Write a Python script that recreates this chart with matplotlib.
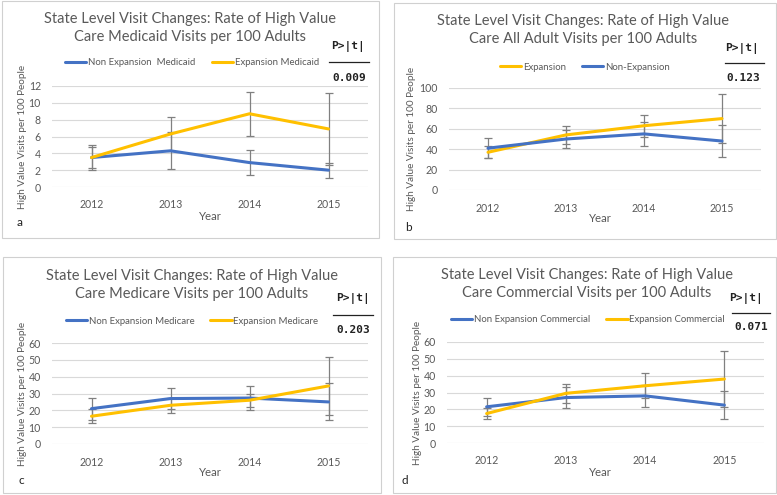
import matplotlib
matplotlib.use("Agg")
import matplotlib.pyplot as plt
from matplotlib.patches import Rectangle
from matplotlib.lines import Line2D

plt.rcParams['font.family'] = ['Lato', 'DejaVu Sans']

W, H = 777, 495
years = ['2012', '2013', '2014', '2015']

# Panel a: Medicaid
a_non = [3.5, 4.3, 2.9, 2.0]
a_non_err = [1.5, 2.2, 1.5, 0.9]
a_exp = [3.5, 6.3, 8.7, 6.9]
a_exp_err = [1.3, 2.0, 2.6, 4.3]
# Panel b: All adult
b_exp = [37, 54, 63, 70]
b_exp_err = [6, 9, 11, 24]
b_non = [41, 50, 55, 48]
b_non_err = [10, 9, 12, 16]
# Panel c: Medicare
c_non = [21, 27, 27.3, 25]
c_non_err = [6.5, 6, 7, 11]
c_exp = [16.5, 23, 26, 34.5]
c_exp_err = [4, 4.5, 4, 17]
# Panel d: Commercial
d_non = [21.5, 27, 28, 22.5]
d_non_err = [5.5, 6, 6.5, 8.5]
d_exp = [17.5, 29.5, 34, 38]
d_exp_err = [3.5, 5.5, 7.5, 16.5]

titles = ["State Level Visit Changes: Rate of High Value\nCare Medicaid Visits per 100 Adults",
          "State Level Visit Changes: Rate of High Value\nCare All Adult Visits per 100 Adults",
          "State Level Visit Changes: Rate of High Value\nCare Medicare Visits per 100 Adults",
          "State Level Visit Changes: Rate of High Value\nCare Commercial Visits per 100 Adults"]
pvals = ['0.009', '0.123', '0.203', '0.071']
letters = ['a', 'b', 'c', 'd']

BLUE = '#4472C4'
GOLD = '#FFC000'
GRAY_TXT = '#595959'
GRID = '#D9D9D9'
ERR = '#808080'

fig = plt.figure(figsize=(W / 100, H / 100), dpi=100)
fig.patch.set_facecolor('white')


def fx(x):
    return x / W


def fy(y):
    return 1 - y / H


def panel(box, axbox, ylim, yticks, series, title_y, title_x, leg_y, leg_x,
          pbox, letter_xy, year_xy, ylab_x, info):
    x0, y0, x1, y1 = box
    fig.add_artist(Rectangle((fx(x0), fy(y1)), (x1 - x0) / W, (y1 - y0) / H,
                             transform=fig.transFigure, fill=False,
                             edgecolor='#D0D0D0', linewidth=0.8))
    ax0, ax1, ytop, ybot = axbox
    ax = fig.add_axes([fx(ax0), fy(ybot), (ax1 - ax0) / W, (ybot - ytop) / H])
    ax.set_facecolor('none')
    xs = list(range(len(years)))
    handles = []
    for vals, errs, color, label in series:
        ax.errorbar(xs, vals, yerr=errs, fmt='none', ecolor=ERR, elinewidth=0.9,
                    capsize=3.0, capthick=0.9, zorder=2)
    for vals, errs, color, label in series:
        ln, = ax.plot(xs, vals, color=color, linewidth=2.2, zorder=3,
                      solid_capstyle='round', label=label)
        handles.append(ln)
    ax.set_xlim(-0.5, 3.5)
    ax.set_ylim(*ylim)
    ax.set_yticks(yticks)
    ax.set_xticks(xs)
    ax.set_xticklabels(years)
    for s in ax.spines.values():
        s.set_visible(False)
    ax.grid(axis='y', color=GRID, linewidth=0.8)
    ax.set_axisbelow(True)
    ax.tick_params(length=0, labelsize=7.6, labelcolor=GRAY_TXT)
    ax.tick_params(axis='y', pad=8)
    ax.tick_params(axis='x', pad=9)
    # title
    fig.text(fx(title_x), fy(title_y), info['title'], ha='center', va='center',
             fontsize=10.5, color=GRAY_TXT, linespacing=1.35)
    # legend
    leg = fig.legend(handles=handles, loc='center',
                     bbox_to_anchor=(fx(leg_x), fy(leg_y)), ncol=2, frameon=False,
                     fontsize=6.9, handlelength=2.2, handletextpad=0.2,
                     columnspacing=1.7, borderpad=0, borderaxespad=0)
    for t in leg.get_texts():
        t.set_color(GRAY_TXT)
    # p-value box
    px, py_lab, lx0, lx1, ly, vx, vy = pbox
    fig.text(fx(px), fy(py_lab), 'P>|t|', ha='center', va='center',
             fontsize=8, fontweight='bold', family='DejaVu Sans Mono', color='#222222')
    fig.add_artist(Line2D([fx(lx0), fx(lx1)], [fy(ly), fy(ly)],
                          transform=fig.transFigure, color='#222222', linewidth=0.9))
    fig.text(fx(vx), fy(vy), info['p'], ha='center', va='center',
             fontsize=8, fontweight='bold', family='DejaVu Sans Mono', color='#222222')
    # letter
    fig.text(fx(letter_xy[0]), fy(letter_xy[1]), info['letter'], ha='center', va='center',
             fontsize=8.5, color='#222222')
    # year label
    fig.text(fx(year_xy[0]), fy(year_xy[1]), 'Year', ha='center', va='center',
             fontsize=8.2, color=GRAY_TXT)
    # y label
    fig.text(fx(ylab_x), fy((ytop + ybot) / 2), 'High Value Visits per 100 People',
             ha='center', va='center', rotation=90, fontsize=7.2, color=GRAY_TXT)
    return ax


panel(box=(2, 1, 379, 238), axbox=(52, 368, 86, 187), ylim=(0, 12),
      yticks=[0, 2, 4, 6, 8, 10, 12],
      series=[(a_non, a_non_err, BLUE, 'Non Expansion  Medicaid'),
              (a_exp, a_exp_err, GOLD, 'Expansion Medicaid')],
      title_y=28, title_x=190, leg_y=63, leg_x=192,
      pbox=(348, 46, 329, 369, 62, 349, 78), letter_xy=(20, 223),
      year_xy=(210, 217), ylab_x=23,
      info={'title': titles[0], 'p': pvals[0], 'letter': letters[0]})

panel(box=(394, 3, 776, 239), axbox=(449, 761, 88, 190), ylim=(0, 100),
      yticks=[0, 20, 40, 60, 80, 100],
      series=[(b_exp, b_exp_err, GOLD, 'Expansion'),
              (b_non, b_non_err, BLUE, 'Non-Expansion')],
      title_y=30, title_x=583, leg_y=67, leg_x=585,
      pbox=(742, 48, 725, 764, 63, 743, 78), letter_xy=(408, 227),
      year_xy=(600, 219), ylab_x=412,
      info={'title': titles[1], 'p': pvals[1], 'letter': letters[1]})

panel(box=(3, 257, 381, 493), axbox=(52, 368, 343, 444), ylim=(0, 60),
      yticks=[0, 10, 20, 30, 40, 50, 60],
      series=[(c_non, c_non_err, BLUE, 'Non Expansion Medicare'),
              (c_exp, c_exp_err, GOLD, 'Expansion Medicare')],
      title_y=285, title_x=192, leg_y=321, leg_x=192,
      pbox=(353, 299, 333, 373, 315, 353, 330), letter_xy=(21, 481),
      year_xy=(210, 473), ylab_x=23,
      info={'title': titles[2], 'p': pvals[2], 'letter': letters[2]})

panel(box=(393, 257, 776, 493), axbox=(447, 764, 342, 443), ylim=(0, 60),
      yticks=[0, 10, 20, 30, 40, 50, 60],
      series=[(d_non, d_non_err, BLUE, 'Non Expansion Commercial'),
              (d_exp, d_exp_err, GOLD, 'Expansion Commercial')],
      title_y=284, title_x=587, leg_y=320, leg_x=588,
      pbox=(746, 298, 732, 770, 313, 751, 327), letter_xy=(405, 481),
      year_xy=(600, 473), ylab_x=418,
      info={'title': titles[3], 'p': pvals[3], 'letter': letters[3]})

fig.savefig('out.png', dpi=100, facecolor='white')
